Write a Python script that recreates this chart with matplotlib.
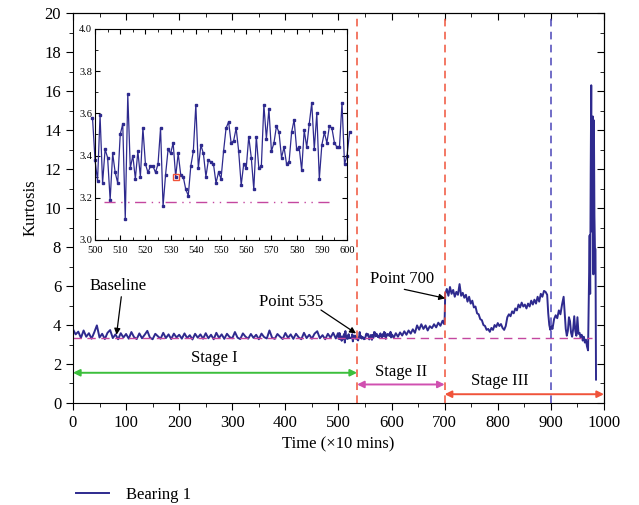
"""Kurtosis trend of bearing 1 with degradation stages and a zoomed baseline inset."""

import numpy as np
import matplotlib

matplotlib.use("Agg")

import matplotlib.pyplot as plt
from matplotlib.ticker import MultipleLocator, FormatStrFormatter

plt.rcParams["font.family"] = ["Liberation Serif", "DejaVu Serif"]

LINE_COLOR = "#2e2a8e"
BASE_COLOR = "#c4479f"
RED = "#f0533a"

# stage I, sampled every 5 units (0..495)
stage1_t = np.arange(0, 500, 5)
stage1_k = [
    3.78, 3.52, 3.66, 3.34, 3.72, 3.40, 3.58, 3.30, 3.62, 3.98,
    3.36, 3.55, 3.28, 3.60, 3.74, 3.33, 3.52, 3.27, 3.58, 3.36,
    3.54, 3.30, 3.64, 3.38, 3.28, 3.57, 3.32, 3.50, 3.70, 3.35,
    3.27, 3.55, 3.42, 3.30, 3.60, 3.33, 3.52, 3.28, 3.56, 3.36,
    3.50, 3.30, 3.57, 3.33, 3.48, 3.26, 3.55, 3.35, 3.52, 3.30,
    3.58, 3.32, 3.50, 3.27, 3.60, 3.34, 3.52, 3.29, 3.55, 3.38,
    3.32, 3.64, 3.35, 3.28, 3.57, 3.40, 3.30, 3.54, 3.34, 3.50,
    3.27, 3.56, 3.38, 3.31, 3.72, 3.35, 3.29, 3.54, 3.40, 3.28,
    3.59, 3.34, 3.52, 3.29, 3.55, 3.37, 3.27, 3.60, 3.33, 3.50,
    3.30, 3.56, 3.68, 3.32, 3.48, 3.27, 3.55, 3.35, 3.60, 3.31,
]

# every sample between 499 and 601 (shown in the inset)
inset_t = np.arange(499, 602)
inset_k = [
    3.58, 3.38, 3.28, 3.59, 3.27, 3.43, 3.39, 3.19, 3.41, 3.32,
    3.27, 3.50, 3.55, 3.10, 3.69, 3.34, 3.40, 3.29, 3.42, 3.30,
    3.53, 3.36, 3.32, 3.35, 3.35, 3.32, 3.36, 3.53, 3.16, 3.31,
    3.43, 3.41, 3.46, 3.30, 3.41, 3.31, 3.30, 3.24, 3.21, 3.35,
    3.42, 3.64, 3.34, 3.45, 3.41, 3.30, 3.38, 3.37, 3.36, 3.27,
    3.32, 3.29, 3.42, 3.53, 3.56, 3.46, 3.47, 3.53, 3.42, 3.26,
    3.36, 3.34, 3.49, 3.39, 3.24, 3.49, 3.34, 3.35, 3.64, 3.48,
    3.62, 3.42, 3.46, 3.54, 3.51, 3.39, 3.44, 3.36, 3.37, 3.51,
    3.57, 3.43, 3.44, 3.33, 3.52, 3.44, 3.55, 3.65, 3.43, 3.60,
    3.29, 3.45, 3.51, 3.46, 3.54, 3.53, 3.46, 3.44, 3.44, 3.65,
    3.36, 3.40, 3.51,
]

# stage II, every 4 units up to the jump at 700
stage2_t = [604, 608, 612, 616, 620, 624, 628, 632, 636, 640, 644, 648, 652,
            656, 660, 664, 668, 672, 676, 680, 684, 688, 692, 696, 699, 700]
stage2_k = [3.35, 3.58, 3.40, 3.62, 3.46, 3.68, 3.50, 3.72, 3.56, 3.78, 3.60,
            3.98, 3.76, 4.04, 3.80, 3.98, 3.72, 3.94, 3.84, 4.04, 3.88, 4.12,
            3.96, 4.22, 4.05, 4.35]

# stage III up to failure
stage3_t = [701, 704, 707, 710, 713, 716, 719, 722, 725, 728, 731, 734, 737,
            740, 743, 746, 749, 752, 755, 758, 761, 764, 767, 770, 773, 776,
            779, 782, 785, 788, 791, 794, 797, 800, 803, 806, 809, 812, 815,
            818, 821, 824, 827, 830, 833, 836, 839, 842, 845, 848, 851, 854,
            857, 860, 863, 866, 869, 872, 875, 878, 881, 884, 887, 890, 893,
            895, 897, 899, 901, 903, 906, 909, 912, 915, 918, 921, 924, 926,
            928, 930, 932, 934, 936, 938, 940, 942, 944, 946, 948, 950, 952,
            954, 956, 958, 960, 962, 964, 966, 968, 970, 971, 972, 973, 974,
            975, 976, 977, 978, 979, 980, 981, 982, 983, 984, 985]
stage3_k = [5.60, 5.85, 5.50, 5.95, 5.60, 5.80, 5.45, 5.70, 5.55, 6.10, 5.50,
            5.65, 5.40, 5.55, 5.20, 5.45, 5.10, 5.25, 4.90, 4.95, 4.60, 4.55,
            4.30, 4.25, 4.00, 3.95, 3.75, 3.80, 3.65, 3.85, 3.75, 4.00, 3.90,
            4.10, 3.95, 4.05, 3.85, 3.75, 3.95, 4.40, 4.55, 4.45, 4.70, 4.60,
            4.85, 4.75, 5.05, 4.90, 5.15, 4.95, 5.05, 4.85, 5.10, 4.95, 5.25,
            5.05, 5.30, 5.10, 5.45, 5.20, 5.60, 5.45, 5.75, 5.70, 5.55, 4.60,
            4.00, 3.75, 3.95, 3.80, 4.30, 4.50, 4.35, 4.75, 4.55, 5.05, 5.45,
            4.60, 3.80, 3.45, 3.70, 4.40, 4.20, 3.60, 3.40, 3.80, 4.45, 3.70,
            3.45, 4.40, 3.55, 3.60, 3.35, 3.50, 3.20, 3.40, 3.10, 3.25, 2.90,
            2.70, 4.80, 6.80, 8.60, 5.60, 11.8, 16.3, 8.80, 12.9, 14.7, 6.60,
            14.5, 9.60, 7.90, 7.90, 1.20]

baseline_level = 3.35
inset_threshold = 3.18
fpt_point = 532  # first point marked in the inset
stage_bounds = [0, 535, 700, 1000]
failure_mark = 900

time = np.concatenate([stage1_t, inset_t, stage2_t, stage3_t])
kurt = np.concatenate([stage1_k, inset_k, stage2_k, stage3_k])

fig = plt.figure(figsize=(6.39, 5.05), dpi=100)
ax = fig.add_axes([0.1142, 0.202, 0.8310, 0.772])

line, = ax.plot(time, kurt, color=LINE_COLOR, lw=1.4, label="Bearing 1")
ax.plot([0, 977], [baseline_level, baseline_level], color=BASE_COLOR,
        lw=1.0, ls=(0, (6, 4)))
for x in stage_bounds[1:3]:
    ax.axvline(x, color=RED, lw=1.1, ls=(0, (5, 3.5)))
ax.axvline(failure_mark, color="#4a45b8", lw=1.1, ls=(0, (5, 3.5)))

ax.set_xlim(0, 1000)
ax.set_ylim(0, 20)
ax.xaxis.set_major_locator(MultipleLocator(100))
ax.xaxis.set_minor_locator(MultipleLocator(50))
ax.yaxis.set_major_locator(MultipleLocator(2))
ax.yaxis.set_minor_locator(MultipleLocator(1))
ax.tick_params(which="both", direction="out", labelsize=12)
ax.tick_params(which="major", length=5)
ax.tick_params(which="minor", length=3)
ax.set_xlabel("Time (×10 mins)", fontsize=12)
ax.set_ylabel("Kurtosis", fontsize=12)

# mirrored inward ticks on top and right
top = ax.secondary_xaxis("top")
top.xaxis.set_major_locator(MultipleLocator(100))
top.xaxis.set_minor_locator(MultipleLocator(50))
top.tick_params(which="both", direction="in", labeltop=False)
top.tick_params(which="major", length=5)
top.tick_params(which="minor", length=3)
right = ax.secondary_yaxis("right")
right.yaxis.set_major_locator(MultipleLocator(2))
right.yaxis.set_minor_locator(MultipleLocator(1))
right.tick_params(which="both", direction="in", labelright=False)
right.tick_params(which="major", length=5)
right.tick_params(which="minor", length=3)

# stage arrows
stage_arrows = [
    (stage_bounds[0], stage_bounds[1], 1.55, "#3cbf3c", "Stage I", 267, 2.3),
    (stage_bounds[1], stage_bounds[2], 0.95, "#d050b0", "Stage II", 618, 1.6),
    (stage_bounds[2], stage_bounds[3], 0.45, RED, "Stage III", 803, 1.15),
]
for x0, x1, y, color, text, tx, ty in stage_arrows:
    ax.annotate("", xy=(x0, y), xytext=(x1, y),
                arrowprops=dict(arrowstyle="<|-|>", color=color, lw=1.4,
                                mutation_scale=10, shrinkA=0, shrinkB=0))
    ax.text(tx, ty, text, ha="center", va="center", fontsize=12)

arrow = dict(arrowstyle="-|>", color="black", lw=0.9, mutation_scale=9,
             shrinkA=0, shrinkB=0)
ax.text(85, 6.0, "Baseline", ha="center", va="center", fontsize=12)
ax.annotate("", xy=(82, 3.5), xytext=(91, 5.45), arrowprops=arrow)
ax.text(410, 5.2, "Point 535", ha="center", va="center", fontsize=12)
ax.annotate("", xy=(533, 3.57), xytext=(467, 4.77), arrowprops=arrow)
ax.text(620, 6.35, "Point 700", ha="center", va="center", fontsize=12)
ax.annotate("", xy=(701, 5.37), xytext=(624, 5.83), arrowprops=arrow)

# zoomed view of the baseline region
ins = fig.add_axes([0.1487, 0.5248, 0.3944, 0.4178])
ins.plot(inset_t, inset_k, color=LINE_COLOR, lw=0.9, marker="s", ms=1.9,
         clip_on=False)
ins.plot([503.5, 594.5], [inset_threshold, inset_threshold], color=BASE_COLOR,
         lw=1.0, ls=(0, (8, 4, 1, 4, 1, 4)))
fpt_idx = list(inset_t).index(fpt_point)
ins.plot(inset_t[fpt_idx], inset_k[fpt_idx], marker="s", ms=4.5,
         mfc="none", mec=RED, mew=1.0)
ins.set_xlim(500, 600)
ins.set_ylim(3.0, 4.0)
ins.xaxis.set_major_locator(MultipleLocator(10))
ins.xaxis.set_minor_locator(MultipleLocator(5))
ins.yaxis.set_major_locator(MultipleLocator(0.2))
ins.yaxis.set_minor_locator(MultipleLocator(0.1))
ins.yaxis.set_major_formatter(FormatStrFormatter("%.1f"))
ins.tick_params(which="both", direction="in", top=True, right=True,
                labelsize=7.5)
ins.tick_params(axis="x", pad=4)
ins.tick_params(axis="y", pad=2)
ins.tick_params(which="major", length=3.5)
ins.tick_params(which="minor", length=2)

fig.legend(handles=[line], loc="lower left", bbox_to_anchor=(0.095, -0.025),
           frameon=False, fontsize=12, handlelength=2.0, handletextpad=1.0)

fig.savefig("out.png", dpi=100)
